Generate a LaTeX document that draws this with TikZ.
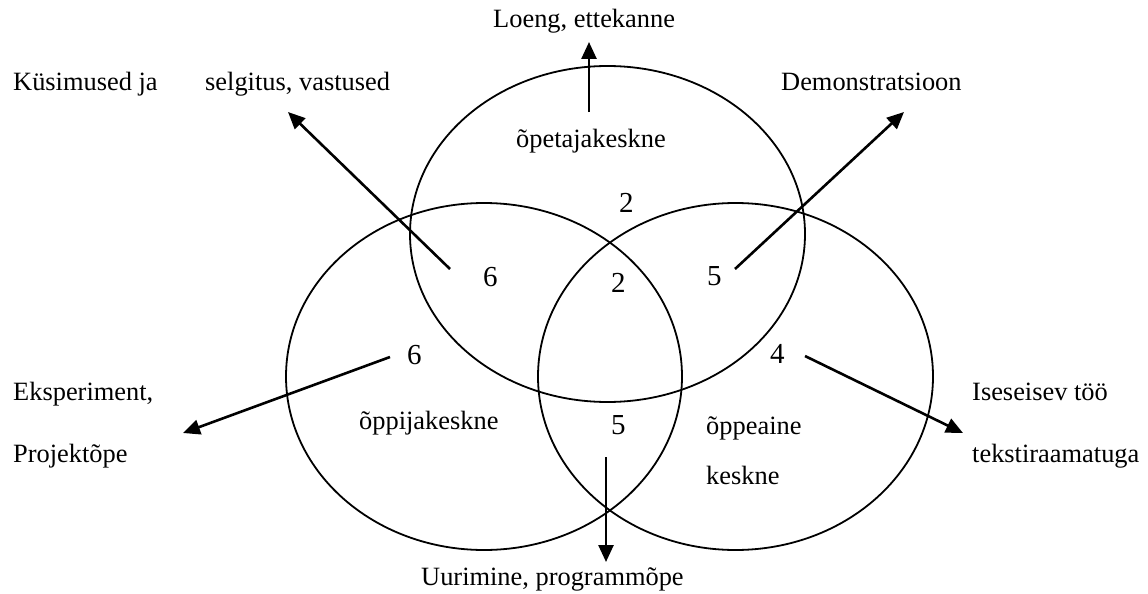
\documentclass[tikz,border=0pt]{standalone}
\usepackage{fontspec}
\setmainfont{Liberation Serif}
\usetikzlibrary{shapes.geometric,arrows.meta}
\tikzset{
  venn/.style={draw, ellipse, line width=1.8pt, inner sep=0pt},
  lbl/.style={anchor=base west, inner sep=0pt, font=\fontsize{26.4}{30}\selectfont},
  num/.style={anchor=base west, inner sep=0pt, font=\fontsize{29}{32}\selectfont},
  arr/.style={line width=2.6pt, -{Triangle[length=17pt,width=15pt]}}
}
\begin{document}
\begin{tikzpicture}[x=1pt,y=-1pt]
\useasboundingbox (0,0) rectangle (1148,594);
% ellipses
\node[venn, minimum width=395pt, minimum height=336pt] (topE) at (607.5,234) {};
\node[venn, minimum width=396pt, minimum height=347pt] (leftE) at (484,376.5) {};
\node[venn, minimum width=395pt, minimum height=347pt] (rightE) at (735.5,376.5) {};
% labels
\node[lbl] (loeng) at (493,28) {Loeng, ettekanne};
\node[lbl] (kys) at (13,90) {Küsimused ja};
\node[lbl] (selg) at (205,90) {selgitus, vastused};
\node[lbl] (demo) at (781,90) {Demonstratsioon};
\node[lbl] (opet) at (516,147) {õpetajakeskne};
\node[lbl] (eksp) at (13,400) {Eksperiment,};
\node[lbl] (proj) at (13,462) {Projektõpe};
\node[lbl] (oppij) at (359,429) {õppijakeskne};
\node[lbl] (oppea) at (706,434) {õppeaine};
\node[lbl] (kesk) at (706,484) {keskne};
\node[lbl] (isesei) at (972,400) {Iseseisev töö};
\node[lbl] (tekst) at (972,462) {tekstiraamatuga};
\node[lbl] (uur) at (421,585) {Uurimine, programmõpe};
% numbers
\node[num] (n6a) at (483,286) {6};
\node[num] (n2a) at (619,212) {2};
\node[num] (n2b) at (611,292) {2};
\node[num] (n5a) at (707,285) {5};
\node[num] (n6b) at (407,364) {6};
\node[num] (n4) at (770,363) {4};
\node[num] (n5b) at (611,434) {5};
% arrow ends
\coordinate (tTop) at (589,112);
\coordinate (hTop) at (589,42);
\coordinate (tSel) at (450,269);
\coordinate (hSel) at (288,112);
\coordinate (tDem) at (735,269);
\coordinate (hDem) at (904,112);
\coordinate (tEks) at (390,357);
\coordinate (hEks) at (183,433);
\coordinate (tIse) at (805,356);
\coordinate (hIse) at (963,433);
\coordinate (tUur) at (606,457);
\coordinate (hUur) at (606,562);
\draw[arr] (tTop) -- (hTop);
\draw[arr] (tSel) -- (hSel);
\draw[arr] (tDem) -- (hDem);
\draw[arr] (tEks) -- (hEks);
\draw[arr] (tIse) -- (hIse);
\draw[arr] (tUur) -- (hUur);
\end{tikzpicture}
\end{document}
